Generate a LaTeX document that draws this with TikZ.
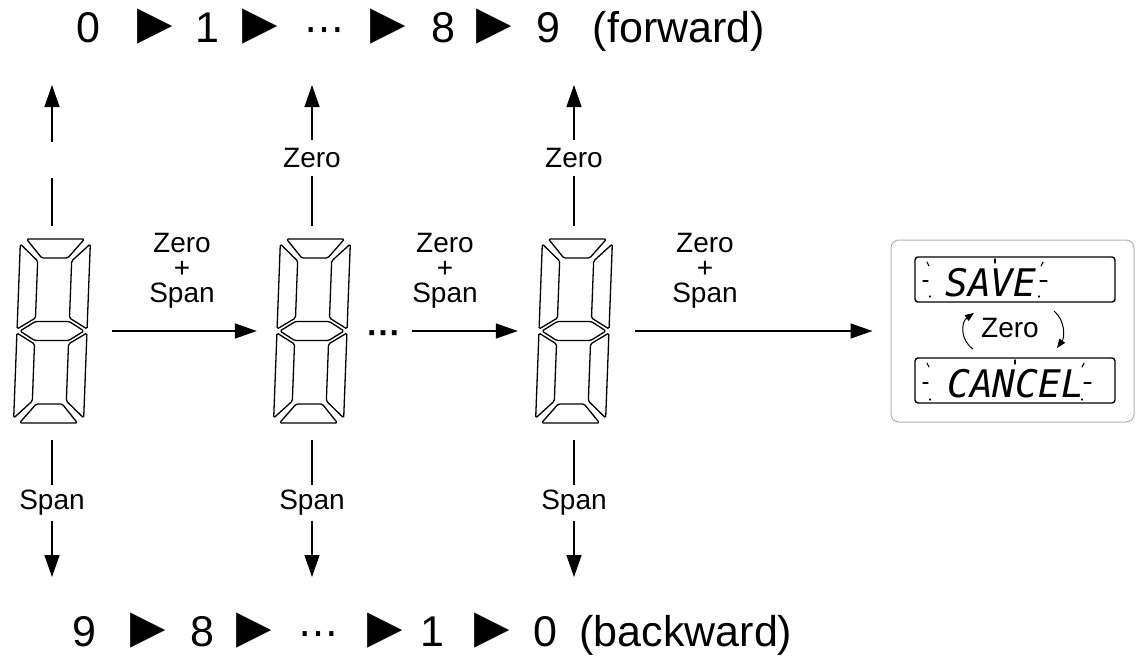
\documentclass[tikz,border=0pt]{standalone}
\usepackage{fontspec}
\setmainfont{Liberation Sans}
\newfontfamily\symfont{DejaVu Sans}
\newfontfamily\lcdfont{DejaVu Sans Mono}
\usetikzlibrary{arrows.meta}
\tikzset{
  pics/sevenseg/.style={code={
    \begin{scope}[xslant=0.038, line width=1.3pt, line join=round, rounded corners=1.5pt]
      \draw (-29,-92) -- (29,-92) -- (13,-73) -- (-13,-73) -- cycle;
      \draw (-35,-87) -- (-17,-70) -- (-17,-13) -- (-35,-2) -- cycle;
      \draw (35,-87) -- (17,-70) -- (17,-13) -- (35,-2) -- cycle;
      \draw (-32,0) -- (-17,-9.5) -- (17,-9.5) -- (32,0) -- (17,9.5) -- (-17,9.5) -- cycle;
      \draw (-35,87) -- (-17,70) -- (-17,13) -- (-35,2) -- cycle;
      \draw (35,87) -- (17,70) -- (17,13) -- (35,2) -- cycle;
      \draw (-29,92) -- (29,92) -- (13,73) -- (-13,73) -- cycle;
    \end{scope}}},
  digit/.style={inner sep=0pt, minimum width=80pt, minimum height=186pt},
  conn/.style={line width=1.4pt},
  arr/.style={line width=1.4pt, -{Triangle[length=22pt,width=15pt]}},
  lbl/.style={font=\fontsize{28}{28}\selectfont, inner sep=0pt},
  vlbl/.style={font=\fontsize{28}{28}\selectfont, inner xsep=0pt, inner ysep=8pt},
  hlbl/.style={font=\fontsize{28}{25}\selectfont, align=center, inner sep=0pt},
  big/.style={font=\fontsize{43}{43}\selectfont, inner sep=0pt, anchor=base},
  tri/.style={font=\symfont\fontsize{46}{46}\selectfont, inner sep=0pt},
  dots/.style={font=\symfont\fontsize{40}{40}\selectfont, inner sep=0pt, anchor=base},
  display/.style={draw, line width=1.4pt, rounded corners=3pt, minimum width=200pt, minimum height=45pt, inner sep=0pt},
  lcd/.style={font=\lcdfont\itshape\fontsize{38}{38}\selectfont, inner sep=0pt, anchor=west},
  ray/.style={line width=1.1pt, line cap=round},
  smallarr/.style={line width=1pt, -{Triangle[length=9pt,width=7pt]}}
}
\begin{document}
\begin{tikzpicture}[x=1pt,y=-1pt]
\useasboundingbox (0,0) rectangle (1136,656);

% top row
\node[big] (t0) at (88,42) {0};
\node[tri] (ta1) at (155,27) {▶};
\node[big] (t1) at (207,42) {1};
\node[tri] (ta2) at (260,27) {▶};
\node[dots] (tdots) at (324,42) {⋯};
\node[tri] (ta3) at (388,27) {▶};
\node[big] (t8) at (443,42) {8};
\node[tri] (ta4) at (494,27) {▶};
\node[big] (t9) at (548,42) {9};
\node[big] (tfw) at (679,42) {(forward)};

% bottom row
\node[big] (b9) at (84,646) {9};
\node[tri] (ba1) at (148,631) {▶};
\node[big] (b8) at (202,646) {8};
\node[tri] (ba2) at (254,631) {▶};
\node[dots] (bdots) at (318,646) {⋯};
\node[tri] (ba3) at (385,631) {▶};
\node[big] (b1) at (432,646) {1};
\node[tri] (ba4) at (492,631) {▶};
\node[big] (b0) at (545,646) {0};
\node[big] (bbw) at (686,646) {(backward)};

% digits
\node[digit] (d1) at (52,331) {};
\node[digit] (d2) at (312,331) {};
\node[digit] (d3) at (574,331) {};
\pic at (d1.center) {sevenseg};
\pic at (d2.center) {sevenseg};
\pic at (d3.center) {sevenseg};

% vertical up arrows
\coordinate (g1a) at (52,178);
\coordinate (g1b) at (52,142);
\coordinate (u1) at (52,85);
\coordinate (u2) at (312,85);
\coordinate (u3) at (574,85);
\node[vlbl] (z2) at (312,158) {Zero};
\node[vlbl] (z3) at (574,158) {Zero};
\draw[conn, shorten <=12pt] (d1.north) -- (g1a);
\draw[arr] (g1b) -- (u1);
\draw[conn, shorten <=12pt] (d2.north) -- (z2.south);
\draw[arr] (z2.north) -- (u2);
\draw[conn, shorten <=12pt] (d3.north) -- (z3.south);
\draw[arr] (z3.north) -- (u3);

% vertical down arrows
\coordinate (v1) at (52,577);
\coordinate (v2) at (312,577);
\coordinate (v3) at (574,577);
\node[vlbl, inner ysep=5pt] (s1) at (52,503) {Span};
\node[vlbl, inner ysep=5pt] (s2) at (312,503) {Span};
\node[vlbl, inner ysep=5pt] (s3) at (574,503) {Span};
\draw[conn, shorten <=16pt] (d1.south) -- (s1.north);
\draw[arr] (s1.south) -- (v1);
\draw[conn, shorten <=16pt] (d2.south) -- (s2.north);
\draw[arr] (s2.south) -- (v2);
\draw[conn, shorten <=16pt] (d3.south) -- (s3.north);
\draw[arr] (s3.south) -- (v3);

% box on the right
\node[draw=black!30, line width=1pt, rounded corners=8pt, minimum width=243pt, minimum height=182pt, inner sep=0pt] (box) at (1012.5,331) {};
\node[display] (save) at (1015,279.5) {};
\node[display] (cancel) at (1015,380.5) {};
\node[lcd] (savet) at (945,283) {SAVE};
\node[lcd] (cancelt) at (947,384) {CANCEL};
% blinking rays
\draw[ray] (927,262) -- (929,266);
\draw[ray] (923,281) -- (928,281);
\draw[ray] (930,296) -- (930,297);
\draw[ray] (995,259) -- (995,263);
\draw[ray] (1043,262) -- (1041,266);
\draw[ray] (1040,281) -- (1047,281);
\draw[ray] (1039,296) -- (1039,297);
\draw[ray] (927,363) -- (929,367);
\draw[ray] (923,383) -- (928,383);
\draw[ray] (930,399) -- (930,400);
\draw[ray] (1015,360) -- (1015,364);
\draw[ray] (1084,363) -- (1082,367);
\draw[ray] (1084,383) -- (1091,383);
\draw[ray] (1082,399) -- (1082,400);
\node[lbl] (zb) at (1010,328) {Zero};
\coordinate (la1) at (973,349);
\coordinate (la2) at (974,313);
\coordinate (ra1) at (1054,311);
\coordinate (ra2) at (1057,348);
\draw[smallarr] (la1) .. controls (960,340) and (961,322) .. (la2);
\draw[smallarr] (ra1) .. controls (1065,320) and (1065,337) .. (ra2);

% horizontal arrows
\node[hlbl] (h1) at (182,271) {Zero\\+\\Span};
\node[hlbl] (h2) at (445,271) {Zero\\+\\Span};
\node[hlbl] (h3) at (705,271) {Zero\\+\\Span};
\node[font=\bfseries\fontsize{34}{34}\selectfont, inner sep=0pt] (hd) at (384,338) {···};
\draw[arr, shorten <=20pt, shorten >=15pt] (d1) -- (d2);
\draw[arr, shorten <=11pt, shorten >=16pt] (hd.east |- d3) -- (d3);
\draw[arr, shorten <=21pt, shorten >=18pt] (d3) -- (box);
\end{tikzpicture}
\end{document}
